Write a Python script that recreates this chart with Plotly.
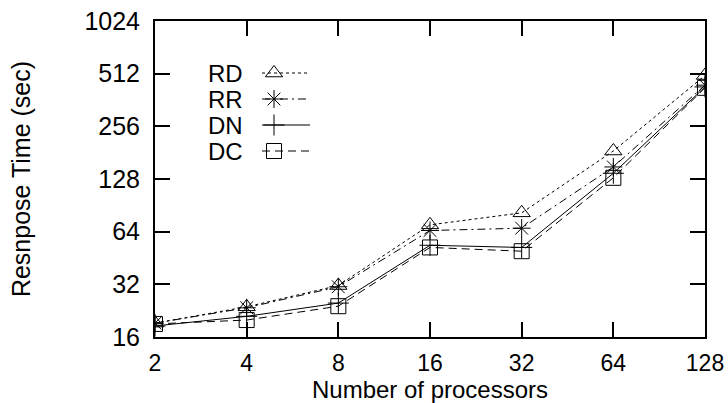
import numpy as np
import plotly.graph_objects as go

processors = [2, 4, 8, 16, 32, 64, 128]
rd = [19.2, 23.8, 31.5, 70, 82, 185, 500]
rr = [19.2, 23.5, 31, 65, 67, 150, 440]
dn = [18.5, 21, 25, 53.5, 52, 138, 430]
dc = [19, 20, 24, 52, 49.5, 130, 425]
y_ticks = [16, 32, 64, 128, 256, 512, 1024]
series_names = ["RD", "RR", "DN", "DC"]

styles = {
    "RD": dict(dash="dot", symbol="triangle-up-open"),
    "RR": dict(dash="8px,4px,2px,4px", symbol="asterisk-open"),
    "DN": dict(dash="solid", symbol="cross-thin-open"),
    "DC": dict(dash="8px,5px", symbol="square-open"),
}
data = {"RD": rd, "RR": rr, "DN": dn, "DC": dc}

W, H = 728, 403
L, R, T, B = 155, 23, 21, 66
FONT = "Liberation Sans, Arial, Helvetica, sans-serif"

fig = go.Figure()
for name in series_names:
    st = styles[name]
    fig.add_trace(go.Scatter(
        x=processors, y=data[name], mode="lines+markers", name=name,
        line=dict(color="black", width=1, dash=st["dash"]),
        marker=dict(symbol=st["symbol"], size=15, color="black",
                    line=dict(color="black", width=1)),
        showlegend=False,
    ))

# Legend keys drawn in pixel-space overlay axes
key_y = [73, 99, 125, 151]
for name, ky in zip(series_names, key_y):
    st = styles[name]
    fig.add_trace(go.Scatter(
        x=[262, 310], y=[ky, ky], mode="lines", xaxis="x2", yaxis="y2",
        line=dict(color="black", width=1, dash=st["dash"]), showlegend=False,
        hoverinfo="skip"))
    fig.add_trace(go.Scatter(
        x=[274], y=[ky], mode="markers", xaxis="x2", yaxis="y2",
        marker=dict(symbol=st["symbol"], size=15, color="black",
                    line=dict(color="black", width=1)),
        showlegend=False, hoverinfo="skip"))
    fig.add_annotation(x=245, y=ky, xref="x2", yref="y2", text=name,
                       showarrow=False, xanchor="right", yanchor="middle",
                       font=dict(size=24, color="black", family=FONT))

axis_common = dict(showline=True, linecolor="black", linewidth=2, mirror="ticks",
                   ticks="inside", ticklen=15, tickwidth=2, tickcolor="black",
                   showgrid=False, zeroline=False, automargin=False)

fig.update_layout(
    width=W, height=H,
    margin=dict(l=L, r=R, t=T, b=B, pad=0),
    paper_bgcolor="white", plot_bgcolor="white",
    font=dict(family=FONT, color="black", size=24),
    xaxis=dict(type="log", range=[np.log10(2), np.log10(128)],
               tickvals=processors, ticktext=[str(p) for p in processors],
               ticklabelstandoff=4,
               tickfont=dict(size=23, color="black", family=FONT),
               title=dict(text="Number of processors",
                          font=dict(size=24, color="black", family=FONT), standoff=7),
               **axis_common),
    yaxis=dict(type="log", range=[np.log10(16), np.log10(1024)],
               tickvals=y_ticks, ticktext=[str(t) for t in y_ticks],
               ticklabelstandoff=8,
               tickfont=dict(size=25, color="black", family=FONT),
               title=dict(text="Resnpose Time (sec)",
                          font=dict(size=25, color="black", family=FONT), standoff=47),
               **axis_common),
    xaxis2=dict(range=[L, W - R], overlaying="x", visible=False, fixedrange=True),
    yaxis2=dict(range=[H - B, T], overlaying="y", visible=False, fixedrange=True),
)

fig.write_html("out.html", config={"displayModeBar": False},
               post_script="document.body.style.margin='0';document.body.style.overflow='hidden';")
